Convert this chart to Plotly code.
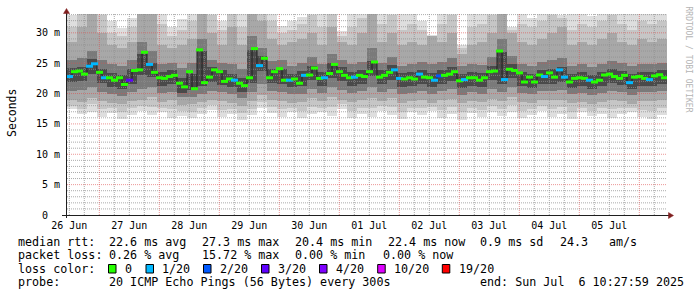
import numpy as np
import pandas as pd
import plotly.graph_objects as go

# ---------------- data ----------------
# median round-trip time (ms), one value every 2 hours
median_ms = [
    22.8, 23.6, 23.7, 23.2, 24.5, 24.9, 23.5, 22.6, 22.6, 22.2,
    22.6, 21.5, 22.2, 23.8, 23.9, 26.8, 24.8, 23.5, 22.6, 22.5,
    22.8, 23.0, 21.7, 21.1, 23.6, 20.8, 27.2, 21.8, 22.7, 23.9,
    23.6, 22.0, 22.4, 22.2, 21.7, 21.3, 22.6, 27.4, 24.6, 25.8,
    22.6, 23.6, 24.1, 22.2, 22.2, 22.4, 21.7, 23.0, 23.05, 24.2,
    22.5, 22.6, 23.3, 24.8, 23.6, 23.0, 22.6, 22.7, 23.0, 22.8,
    23.6, 25.2, 22.7, 23.0, 23.5, 23.9, 22.5, 22.4, 22.6, 22.4,
    23.2, 22.7, 22.6, 22.2, 22.9, 23.0, 23.2, 23.6, 22.1, 22.3,
    22.6, 22.6, 22.2, 22.6, 23.6, 23.7, 27.0, 22.3, 24.0, 23.8,
    23.4, 21.9, 22.7, 21.9, 23.05, 22.8, 23.4, 22.7, 23.9, 22.7,
    21.9, 22.5, 22.6, 22.5, 22.2, 21.9, 22.2, 23.05, 23.2, 22.8,
    22.5, 23.0, 21.8, 22.7, 22.8, 22.5, 22.3, 22.9, 23.1, 22.6,
]
# lost pings (out of 20) for each median point
loss_pings = [
    1, 0, 0, 0, 1, 1, 0, 1, 0, 0,
    0, 0, 3, 0, 0, 0, 1, 0, 0, 0,
    0, 0, 0, 0, 0, 0, 0, 0, 0, 0,
    0, 0, 0, 1, 0, 0, 0, 0, 1, 0,
    0, 0, 0, 0, 1, 0, 0, 1, 0, 0,
    0, 1, 0, 0, 0, 0, 0, 1, 0, 0,
    0, 0, 0, 0, 0, 1, 1, 0, 0, 0,
    1, 0, 0, 1, 2, 0, 0, 0, 0, 1,
    0, 0, 0, 0, 0, 0, 0, 1, 0, 0,
    0, 0, 0, 0, 0, 1, 0, 0, 1, 1,
    0, 0, 0, 0, 1, 0, 0, 0, 0, 0,
    0, 0, 1, 0, 0, 0, 1, 0, 0, 0,
]

# smoke (ping distribution), one column every 4 hours, values in ms
smoke_top = [
    33.0, 33.5, 33.5, 33.5, 32.0, 30.8, 32.5, 33.5, 33.5, 33.5,
    31.0, 32.3, 33.5, 33.5, 33.5, 32.0, 33.5, 33.5, 33.5, 33.5,
    33.5, 31.2, 32.0, 32.6, 33.5, 33.5, 33.5, 30.3, 33.5, 33.5,
    33.5, 33.5, 33.5, 33.5, 33.5, 32.0, 29.7, 33.5, 33.5, 28.0,
    33.5, 33.5, 33.5, 33.5, 31.0, 33.5, 32.5, 33.5, 33.5, 33.0,
    33.5, 33.5, 32.8, 33.5, 33.5, 33.5, 33.5, 33.5, 33.2, 33.5,
]
smoke_hi1 = [
    31.0, 33.5, 33.5, 33.0, 30.0, 29.5, 31.0, 33.5, 33.5, 31.5,
    29.5, 30.5, 32.0, 33.5, 33.0, 30.5, 33.5, 31.0, 33.5, 33.5,
    32.0, 30.0, 30.5, 31.5, 33.0, 31.0, 33.5, 29.5, 31.0, 32.5,
    33.5, 31.5, 33.0, 30.5, 31.5, 30.5, 29.5, 31.5, 33.0, 27.5,
    31.0, 31.5, 33.0, 33.5, 30.5, 31.5, 31.0, 32.0, 33.0, 32.5,
    30.5, 31.5, 31.0, 32.0, 33.0, 31.5, 30.5, 32.0, 31.5, 32.0,
]
smoke_hi2 = [
    28.5, 31.0, 33.5, 30.0, 28.0, 27.5, 28.5, 33.5, 33.5, 28.0,
    27.5, 28.0, 29.0, 33.5, 30.0, 28.0, 31.0, 28.0, 33.5, 32.0,
    29.0, 28.0, 28.5, 29.0, 30.0, 28.0, 31.0, 28.5, 28.0, 30.0,
    33.5, 28.5, 30.0, 28.0, 28.5, 28.0, 29.5, 28.5, 30.0, 26.5,
    28.0, 28.5, 30.0, 33.5, 30.0, 28.5, 28.0, 29.0, 30.0, 31.0,
    28.0, 28.5, 28.0, 29.0, 30.0, 28.5, 28.0, 29.0, 28.5, 29.0,
]
smoke_hi3 = [
    25.5, 25.8, 27.0, 25.5, 24.8, 24.5, 25.5, 28.5, 27.0, 24.8,
    25.0, 24.2, 25.0, 29.0, 25.5, 25.0, 24.8, 24.0, 29.5, 27.5,
    25.3, 25.5, 24.6, 25.0, 26.0, 24.8, 26.5, 25.5, 24.8, 25.2,
    27.5, 25.0, 26.0, 24.6, 24.8, 25.2, 24.8, 25.2, 25.8, 24.5,
    24.8, 24.7, 26.0, 29.0, 26.2, 24.9, 24.6, 25.2, 25.5, 25.8,
    24.5, 24.8, 24.3, 24.9, 25.3, 25.0, 24.5, 24.9, 24.9, 25.1,
]
smoke_hi4 = [
    24.2, 24.4, 25.7, 24.0, 23.4, 23.0, 24.0, 26.5, 25.1, 23.5,
    23.9, 22.5, 23.3, 27.0, 24.3, 23.8, 23.3, 22.5, 27.2, 26.2,
    24.1, 24.1, 23.3, 23.7, 24.6, 23.5, 25.0, 24.3, 23.6, 23.9,
    25.4, 23.8, 24.7, 23.4, 23.5, 23.9, 23.4, 23.9, 24.4, 23.2,
    23.6, 23.4, 24.6, 26.8, 24.9, 23.6, 23.3, 23.9, 24.0, 24.3,
    23.2, 23.5, 23.0, 23.6, 24.0, 23.7, 23.2, 23.6, 23.6, 23.8,
]
smoke_lo4 = [
    21.9, 22.1, 23.2, 21.7, 21.1, 20.7, 21.6, 23.0, 22.7, 21.2,
    21.6, 20.1, 20.6, 21.2, 21.9, 21.4, 21.0, 20.2, 21.8, 23.7,
    21.8, 21.6, 21.0, 21.2, 22.2, 21.2, 22.6, 22.0, 21.3, 21.6,
    22.9, 21.5, 22.3, 21.1, 21.2, 21.6, 21.1, 21.6, 22.1, 20.9,
    21.3, 21.1, 22.2, 21.6, 22.5, 21.2, 20.9, 21.6, 21.6, 21.9,
    20.9, 21.2, 20.7, 21.2, 21.7, 21.4, 20.8, 21.3, 21.3, 21.5,
]
smoke_lo3 = [
    20.5, 20.6, 21.0, 20.3, 20.0, 19.6, 20.2, 20.8, 21.0, 20.1,
    20.3, 19.4, 19.5, 20.0, 20.5, 20.2, 19.9, 19.3, 20.3, 21.5,
    20.5, 20.3, 19.9, 20.0, 20.8, 20.1, 21.0, 20.6, 20.1, 20.4,
    21.0, 20.3, 20.8, 20.0, 20.1, 20.4, 20.0, 20.4, 20.7, 19.8,
    20.2, 20.0, 20.7, 20.3, 21.0, 20.1, 19.9, 20.4, 20.4, 20.6,
    19.9, 20.1, 19.7, 20.1, 20.5, 20.3, 19.8, 20.2, 20.2, 20.4,
]
smoke_lo2 = [
    19.0, 18.6, 19.3, 18.7, 18.5, 18.2, 18.8, 19.0, 19.4, 18.6,
    18.9, 18.1, 18.3, 18.6, 19.0, 18.7, 18.4, 18.0, 18.8, 19.8,
    19.0, 18.8, 18.5, 18.6, 19.2, 18.7, 19.4, 19.0, 18.6, 18.9,
    19.3, 18.8, 19.2, 18.5, 18.7, 18.9, 18.5, 18.9, 19.1, 18.4,
    18.7, 18.6, 19.1, 18.8, 19.4, 18.6, 18.4, 18.9, 18.9, 19.0,
    18.4, 18.6, 18.2, 18.6, 19.0, 18.8, 18.3, 18.7, 18.7, 18.9,
]
smoke_lo1 = [
    18.0, 17.5, 18.2, 17.4, 17.6, 16.9, 17.6, 18.0, 17.8, 17.7,
    17.4, 17.2, 17.0, 17.6, 18.1, 17.3, 17.4, 16.8, 17.5, 18.6,
    17.8, 17.4, 17.6, 17.1, 17.8, 17.7, 17.8, 18.2, 17.2, 17.7,
    17.7, 17.9, 17.8, 17.0, 17.7, 17.6, 17.8, 17.3, 17.8, 16.9,
    17.7, 17.3, 18.0, 17.5, 18.1, 17.1, 17.4, 18.0, 17.5, 17.8,
    17.0, 17.7, 17.2, 17.6, 17.4, 17.6, 17.6, 17.3, 17.1, 17.6,
]
smoke_bottom = [
    17.4, 16.6, 17.0, 16.2, 16.8, 15.8, 16.5, 17.2, 16.4, 16.9,
    16.0, 16.3, 15.9, 16.7, 17.3, 16.1, 16.6, 15.7, 16.4, 17.6,
    16.8, 16.2, 16.9, 15.9, 16.6, 17.0, 16.3, 17.5, 16.0, 16.7,
    16.2, 17.1, 16.5, 15.8, 16.9, 16.4, 17.2, 16.0, 16.6, 15.7,
    16.8, 16.2, 17.0, 16.3, 16.9, 15.9, 16.5, 17.1, 16.2, 16.6,
    15.8, 16.9, 16.3, 16.7, 15.9, 16.6, 17.0, 16.1, 15.8, 16.4,
]

day_labels = ["26 Jun", "27 Jun", "28 Jun", "29 Jun", "30 Jun",
              "01 Jul", "02 Jul", "03 Jul", "04 Jul", "05 Jul"]
y_tick_vals = [0, 5, 10, 15, 20, 25, 30]
y_tick_text = ["0\u00a0\u00a0", "5 m", "10 m", "15 m", "20 m", "25 m", "30 m"]

loss_levels = ["0", "1/20", "2/20", "3/20", "4/20", "10/20", "19/20"]
loss_thresholds = [0, 1, 2, 3, 4, 10, 19]
loss_colors = ["#26ff00", "#00b8ff", "#0059ff", "#5e00ff", "#7e00ff", "#dd00ff", "#ff0000"]

rtt_stats = ["22.6 ms avg", "27.3 ms max", "20.4 ms min", "22.4 ms now", "0.9 ms sd", "24.3", "am/s"]
loss_stats = ["0.26 % avg", "15.72 % max", "0.00 % min", "0.00 % now"]
probe_text = "20 ICMP Echo Pings (56 Bytes) every 300s"
end_text = "end: Sun Jul  6 10:27:59 2025"

# ---------------- geometry / style ----------------
W, H = 697, 297
PL, PR, PT, PB = 67, 667, 14, 215
Y_MAX = 33.1
t_left = pd.Timestamp("2025-06-26 11:04:48")
t_right = t_left + pd.Timedelta(hours=240)
MONO = "DejaVu Sans Mono"


def px(x):
    return (x - PL) / (PR - PL)


def py(y):
    return (PB - y) / (PB - PT)


median_t = pd.date_range(t_left + pd.Timedelta(hours=1), periods=len(median_ms), freq="2h")
smoke_t = pd.date_range(t_left + pd.Timedelta(hours=2), periods=len(smoke_top), freq="4h")


def loss_color(n):
    c = loss_colors[0]
    for th, col in zip(loss_thresholds, loss_colors):
        if n >= th:
            c = col
    return c


fig = go.Figure()

bands = [
    (smoke_bottom, smoke_top, "#dedede"),
    (smoke_lo1, smoke_hi1, "#c6c6c6"),
    (smoke_lo2, smoke_hi2, "#a8a8a8"),
    (smoke_lo3, smoke_hi3, "#7a7a7a"),
    (smoke_lo4, smoke_hi4, "#4a4a4a"),
]
bar_w = 4 * 3600 * 1000
for lo, hi, col in bands:
    lo_a = np.array(lo)
    hi_a = np.array(hi)
    fig.add_trace(go.Bar(x=smoke_t, y=hi_a - lo_a, base=lo_a, width=bar_w,
                         marker=dict(color=col, line=dict(width=0)),
                         hoverinfo="skip", showlegend=False))

# grid (drawn over the smoke, as rrdtool does)
minor_col = "rgba(143,143,143,0.75)"
major_col = "rgba(222,79,79,0.6)"
hx_min, hy_min, hx_maj, hy_maj = [], [], [], []
for v in range(1, 34):
    if v > Y_MAX:
        break
    if v % 5 == 0:
        hx_maj += [t_left, t_right, None]
        hy_maj += [v, v, None]
    else:
        hx_min += [t_left, t_right, None]
        hy_min += [v, v, None]
vx_min, vy_min, vx_maj, vy_maj = [], [], [], []
g = pd.Timestamp("2025-06-26 12:00")
while g < t_right:
    if g.hour == 0:
        vx_maj += [g, g, None]
        vy_maj += [0, Y_MAX, None]
    else:
        vx_min += [g, g, None]
        vy_min += [0, Y_MAX, None]
    g += pd.Timedelta(hours=6)
for xs, ys, col in [(hx_min, hy_min, minor_col), (vx_min, vy_min, minor_col),
                    (hx_maj, hy_maj, major_col), (vx_maj, vy_maj, major_col)]:
    fig.add_trace(go.Scatter(x=xs, y=ys, mode="lines",
                             line=dict(color=col, width=1, dash="1px,1px"),
                             hoverinfo="skip", showlegend=False))

# median line + loss-coloured segments
fig.add_trace(go.Scatter(x=median_t, y=median_ms, mode="lines",
                         line=dict(color="#202020", width=1, shape="hvh"),
                         hoverinfo="skip", showlegend=False))
fig.add_trace(go.Scatter(x=median_t, y=median_ms, mode="markers",
                         marker=dict(symbol="line-ew", size=5,
                                     line=dict(width=3, color=[loss_color(n) for n in loss_pings])),
                         hoverinfo="skip", showlegend=False))

shapes = []
axis_col = "#1f1f1f"
arrow_col = "#801f1f"
# axes
shapes.append(dict(type="line", xref="paper", yref="paper", x0=px(62), x1=px(669),
                   y0=py(215.5), y1=py(215.5), line=dict(color=axis_col, width=1)))
shapes.append(dict(type="line", xref="paper", yref="paper", x0=px(66.5), x1=px(66.5),
                   y0=py(218), y1=py(12), line=dict(color=axis_col, width=1)))
# arrows
shapes.append(dict(type="path", xref="paper", yref="paper",
                   path=f"M {px(63.5)},{py(13.5)} L {px(66.5)},{py(8.5)} L {px(69.5)},{py(13.5)} Z",
                   fillcolor=arrow_col, line=dict(color=arrow_col, width=0.5)))
shapes.append(dict(type="path", xref="paper", yref="paper",
                   path=f"M {px(668.5)},{py(212.5)} L {px(673.5)},{py(215.5)} L {px(668.5)},{py(218.5)} Z",
                   fillcolor=arrow_col, line=dict(color=arrow_col, width=0.5)))

annotations = []


def txt(x, y, s, size=11.7, color="black", xanchor="left", angle=0):
    annotations.append(dict(xref="paper", yref="paper", x=px(x), y=py(y),
                            text=s.replace(" ", "\u00a0"), showarrow=False,
                            xanchor=xanchor, yanchor="middle", textangle=angle,
                            font=dict(family=MONO, size=size, color=color)))


row_y = [241.5, 255, 268.5, 282]
# row 1
txt(16, row_y[0], "median rtt:")
for s, x in zip(rtt_stats, [107, 200, 293, 386, 478, 558, 607]):
    txt(x, row_y[0], s)
# row 2
txt(16, row_y[1], "packet loss:")
for s, x in zip(loss_stats, [107, 200, 293, 381]):
    txt(x, row_y[1], s)
# row 3
txt(16, row_y[2], "loss color:")
sq_x = [108.5, 146, 203.5, 261.5, 319.5, 377.7, 442.3]
lab_x = [123.3, 160.3, 218.3, 276.3, 334.3, 392.3, 457.3]
for lev, col, sx, lx in zip(loss_levels, loss_colors, sq_x, lab_x):
    shapes.append(dict(type="rect", xref="paper", yref="paper",
                       x0=px(sx), x1=px(sx + 7.5), y0=py(273), y1=py(264.5),
                       fillcolor=col, line=dict(color="black", width=1)))
    txt(lx, row_y[2], lev)
# row 4
txt(16, row_y[3], "probe:")
txt(107, row_y[3], probe_text)
txt(478.3, row_y[3], end_text)

# axis title & watermark
txt(11.5, 113.5, "Seconds", size=11.5, xanchor="center", angle=-90)
txt(687.5, 59, "RRDTOOL / TOBI OETIKER", size=8, color="#b4b4b4", xanchor="center", angle=90)

noon = [pd.Timestamp("2025-06-26 12:00") + pd.Timedelta(days=i) for i in range(len(day_labels))]

fig.update_layout(
    width=W, height=H,
    margin=dict(l=PL, r=W - PR, t=PT, b=H - PB, pad=0),
    paper_bgcolor="white", plot_bgcolor="white",
    barmode="overlay", bargap=0,
    showlegend=False,
    shapes=shapes, annotations=annotations,
    xaxis=dict(type="date", range=[t_left, t_right], showgrid=False, zeroline=False,
               showline=False, ticks="", tickvals=noon, ticktext=day_labels,
               ticklabelstandoff=3,
               tickfont=dict(family=MONO, size=10, color="black"), fixedrange=True),
    yaxis=dict(range=[0, Y_MAX], showgrid=False, zeroline=False, showline=False,
               ticks="", tickvals=y_tick_vals, ticktext=y_tick_text,
               ticklabelstandoff=6,
               tickfont=dict(family=MONO, size=10, color="black"), fixedrange=True),
)

fig.write_html("out.html", config={"displayModeBar": False})
